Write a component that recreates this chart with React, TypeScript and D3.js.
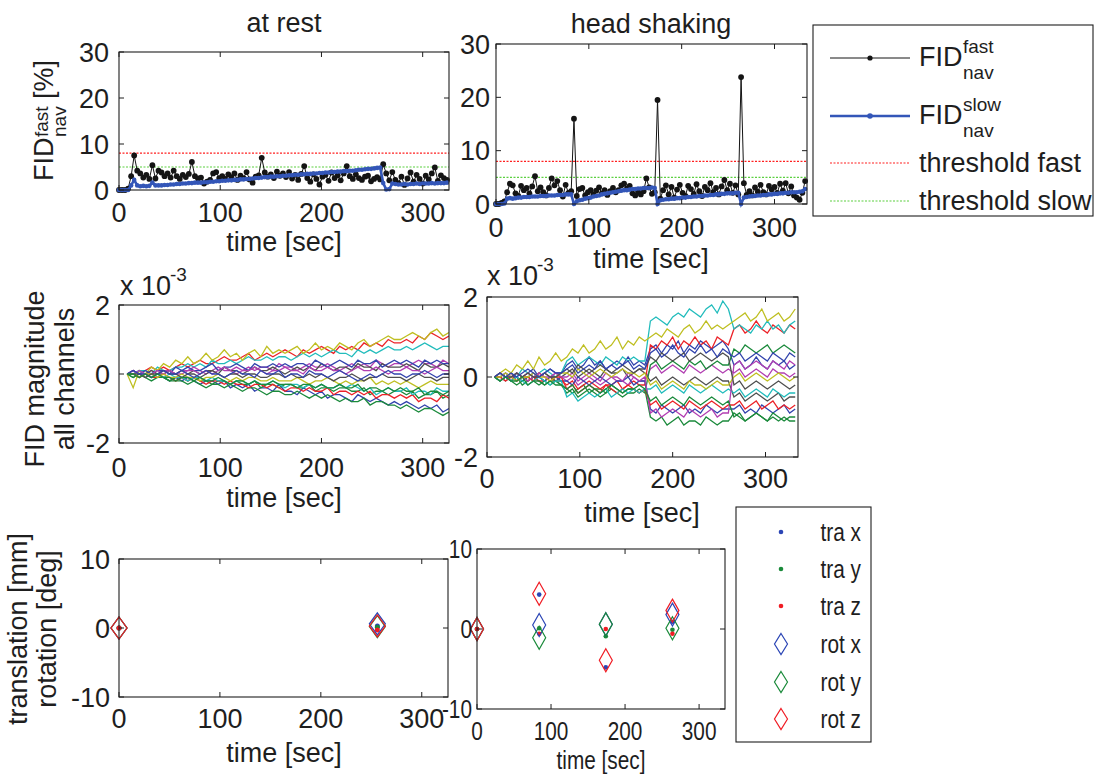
import React from "react";
import * as d3 from "d3";

const FONT = "'Liberation Sans', Arial, Helvetica, sans-serif";
const INK = "#1e1e1e";

// navigator samples, one every 3 s, FID deviation in %
const NAV_STEP = 3;
const restFast = [
  0, 0, 0, 0.3,
  3.0, 7.5, 4.2, 3.6, 2.7, 3.3, 2.4, 5.4, 2.5,
  4.2, 3.8, 3.0, 3.6, 2.7, 4.2, 3.0, 2.4, 3.3, 2.8, 3.5, 6.1,
  3.0, 2.5, 2.7, 1.4, 1.8, 2.2, 3.6, 3.9, 2.6, 3.0, 2.4, 3.4,
  2.8, 3.6, 2.2, 3.1, 2.6, 3.9, 2.3, 1.6, 2.9, 3.2, 7.0, 3.8,
  2.9, 3.4, 2.6, 4.0, 3.1, 3.6, 2.8, 3.9, 2.5, 3.3, 2.2, 3.5,
  5.2, 2.6, 1.8, 3.4, 2.4, 1.2, 2.9, 3.3, 2.0, 3.8, 2.6, 3.2,
  2.1, 3.6, 5.2, 3.0, 2.4, 3.4, 2.6, 2.2, 2.9, 3.1, 1.9, 2.4,
  2.8, 2.3, 5.6, 3.6, 2.1, 3.9, 2.2, 1.5, 2.9, 1.1, 2.5, 3.8,
  1.8, 3.3, 2.4, 1.4, 3.1, 2.3, 3.6, 4.9, 2.0, 3.2, 2.6, 2.2,
];
const restSlow = [
  0, 0, 0, 0,
  1.0, 2.2, 1.0, 0.8, 0.9, 0.8, 0.9, 1.6, 1.0,
  1.0, 1.0, 1.1, 1.1, 1.2, 1.2, 1.3, 1.3, 1.4, 1.4, 1.5, 1.5,
  1.6, 1.6, 1.6, 1.7, 1.7, 1.8, 1.8, 1.9, 1.9, 2.0, 2.0, 2.1,
  2.1, 2.2, 2.2, 2.3, 2.3, 2.4, 2.4, 2.5, 2.6, 2.6, 2.7, 2.8,
  2.8, 2.9, 2.9, 3.0, 3.0, 3.1, 3.1, 3.2, 3.2, 3.3, 3.3, 3.4,
  3.4, 3.5, 3.5, 3.6, 3.6, 3.7, 3.7, 3.8, 3.8, 3.9, 3.9, 4.0,
  4.0, 4.1, 4.1, 4.2, 4.2, 4.3, 4.4, 4.4, 4.5, 4.6, 4.6, 4.7,
  4.8, 4.9, 1.5, 0.1, 0.2, 1.4, 1.3, 1.2, 1.2, 1.3, 1.2, 1.3,
  1.3, 1.4, 1.3, 1.4, 1.4, 1.4, 1.5, 1.4, 1.5, 1.5, 1.5, 1.6,
];
const shakeFast = [
  0, 0, 0.2, 0.5,
  2.2, 3.8, 3.5, 2.0, 1.5, 3.4, 2.6, 3.0, 2.0, 3.3, 5.2, 2.4,
  3.1, 2.2, 1.6, 3.0, 4.8, 3.5, 4.3, 2.6, 1.4, 3.6, 2.1, 2.4,
  16.0, 1.5, 2.8, 3.0, 1.6, 2.2, 2.6, 1.8, 2.5, 3.1, 2.0, 2.6,
  1.7, 2.4, 3.0, 2.2, 2.6, 3.5, 3.8, 2.9, 3.4, 2.0, 1.6, 2.3,
  1.8, 2.4, 4.8, 3.1, 1.9, 2.2, 19.5, 1.0, 2.6, 3.5, 1.8, 3.2,
  1.2, 2.7, 3.6, 2.1, 1.5, 3.4, 2.8, 1.9, 3.7, 2.4, 1.5, 3.2,
  2.6, 3.9, 2.2, 3.0, 1.8, 3.3, 4.5, 2.6, 3.8, 2.1, 3.5, 1.8,
  23.8, 3.9, 1.7, 2.4, 1.6, 3.1, 2.3, 3.6, 2.2, 1.8, 3.4, 2.7,
  3.2, 2.1, 3.8, 2.5, 3.9, 2.0, 3.3, 1.6, 1.2, 0.8, 2.1, 4.3,
];
const shakeSlow = [
  0, 0, 0, 0.1,
  1.0, 1.1, 1.0, 1.1, 1.2, 1.2, 1.3, 1.3, 1.3, 1.4, 1.4, 1.4,
  1.5, 1.5, 1.5, 1.6, 1.6, 1.6, 1.7, 1.7, 1.7, 1.8, 1.8, 1.8,
  0.0, 0.5, 0.7, 0.8, 1.0, 1.1, 1.2, 1.4, 1.5, 1.6, 1.8, 1.9,
  2.0, 2.1, 2.2, 2.3, 2.4, 2.5, 2.6, 2.6, 2.7, 2.8, 2.8, 2.9,
  2.9, 3.0, 3.0, 3.0, 3.1, 3.0, 0.0, 0.7, 0.8, 0.9, 0.9, 1.0,
  1.0, 1.1, 1.1, 1.2, 1.2, 1.3, 1.3, 1.4, 1.4, 1.5, 1.5, 1.6,
  1.6, 1.7, 1.7, 1.8, 1.8, 1.9, 1.9, 2.0, 2.0, 2.0, 2.1, 2.1,
  0.0, 1.2, 1.3, 1.4, 1.5, 1.5, 1.6, 1.6, 1.7, 1.7, 1.8, 1.8,
  1.9, 1.9, 2.0, 2.0, 2.1, 2.1, 2.2, 2.2, 2.2, 2.3, 2.4, 2.8,
];
const thresholdFast = 8;
const thresholdSlow = 5;

// FID magnitude per channel in units of 1e-4, sampled every 6 s starting at 8 s
const CH_START = 8;
const CH_STEP = 6;
const restChannels = [
  [0,0,-1,0,-1,0,-1,-2,-1, -2,-1,-2,-3,-2,-2,-3,-2,-4, -3,-4,-3,-5,-4,-4,-5,-3,-5, -5,-6,-4,-5,-6,-5,-7,-6,-6, -7,-8,-6,-7,-8,-7,-8,-9,-8, -9,-8,-9,-10,-9,-10,-9,-11,-10],
  [0,-1,0,-1,-2,-1,-1,-2,-2, -2,-3,-2,-3,-4,-3,-3,-4,-3, -4,-5,-4,-4,-5,-6,-5,-5,-6, -6,-5,-6,-7,-6,-7,-6,-7,-8, -7,-8,-8,-7,-9,-8,-8,-9,-9, -10,-9,-10,-11,-10,-10,-11,-12,-11],
  [0,1,0,1,2,1,2,1,2, 3,2,3,4,3,3,4,5,4, 4,5,6,4,5,6,5,6,7, 6,5,7,6,7,8,7,6,8, 7,8,7,9,8,9,8,10,9, 9,10,9,11,10,12,11,10,11],
  [0,0,1,1,0,2,1,1,2, 2,3,2,3,2,4,3,3,4, 3,4,5,4,4,5,4,5,5, 4,5,6,5,6,5,6,7,6, 6,5,7,6,7,6,7,8,7, 7,8,7,8,9,8,7,8,8],
  [0,1,0,0,1,0,1,1,0, 1,1,2,1,0,1,2,1,1, 2,1,2,1,2,2,1,3,2, 2,1,2,3,2,2,3,2,1, 2,3,2,3,2,4,3,2,3, 3,2,3,4,3,3,2,4,3],
  [0,-4,1,0,2,1,3,2,4, 3,5,3,4,6,4,5,7,5, 6,4,6,7,5,8,6,7,6, 7,8,6,7,9,7,8,7,9, 8,7,9,10,8,9,10,11,10, 10,11,12,11,10,12,13,11,12],
  [0,0,-1,0,1,0,0,1,0, 1,0,1,0,1,1,0,2,1, 1,0,1,2,1,1,2,1,0, 1,2,1,2,1,3,2,1,2, 2,1,3,2,2,1,3,2,2, 2,3,2,1,3,2,2,3,2],
  [0,1,0,1,0,1,1,0,2, 1,2,1,1,2,3,1,2,2, 3,2,1,3,2,2,3,2,3, 2,3,3,2,4,3,2,3,4, 3,2,4,3,3,4,2,3,4, 3,4,3,2,4,3,4,3,3],
  [0,-1,0,-1,0,-1,-1,-2,-1, -1,-2,-1,-2,-2,-3,-2,-2,-3, -2,-3,-3,-2,-4,-3,-3,-4,-3, -3,-4,-4,-3,-5,-4,-4,-5,-4, -4,-5,-5,-4,-6,-5,-5,-6,-5, -5,-6,-5,-7,-6,-6,-5,-7,-6],
  [0,0,-1,0,-1,-1,0,-1,-2, -1,-2,-1,-2,-3,-2,-2,-3,-2, -3,-3,-4,-3,-3,-4,-3,-4,-5, -4,-4,-5,-4,-5,-5,-4,-6,-5, -5,-6,-5,-6,-5,-7,-6,-6,-7, -6,-7,-6,-8,-7,-7,-8,-6,-7],
  [0,0,1,0,-1,0,-1,0,-1, -1,-2,-1,-1,-2,-1,-2,-2,-3, -2,-2,-3,-2,-3,-3,-2,-3,-4, -3,-3,-4,-3,-4,-3,-4,-4,-3, -4,-3,-4,-5,-4,-6,-5,-4,-5, -5,-4,-6,-5,-5,-6,-4,-5,-5],
  [0,0,1,0,0,1,0,1,0, 0,1,1,0,1,0,1,2,1, 0,1,1,2,1,0,1,1,2, 1,1,0,2,1,1,2,1,1, 0,1,2,1,1,2,1,0,1, 1,2,1,1,0,1,2,1,1],
  [0,0,-1,0,0,-1,0,-1,-1, 0,-1,-1,-2,-1,-1,0,-1,-2, -1,-2,-1,-1,-2,-2,-1,-2,-2, -2,-1,-2,-3,-2,-2,-1,-2,-3, -2,-3,-2,-2,-1,-3,-2,-3,-2, -3,-2,-3,-4,-3,-2,-3,-3,-3],
  [0,0,0,-1,0,0,1,0,0, -1,0,0,-1,0,1,0,-1,0, 0,-1,0,0,-1,-1,0,0,-1, 0,-1,-1,0,-1,0,-1,-2,-1, -1,0,-1,-2,-1,-1,0,-1,-1, -1,-2,-1,0,-1,-1,-2,-1,-1],
  [0,1,0,0,-1,0,1,0,0, 1,0,-1,0,1,0,0,-1,0, 1,0,0,-1,1,0,0,1,-1, 0,0,-1,1,0,0,-1,0,1, 0,-1,-2,-1,0,-1,0,1,0, 0,-1,0,0,1,0,-1,0,0],
  [0,0,-1,0,-1,0,-1,-1,-2, -1,-1,-2,-1,-2,-2,-1,-2,-3, -2,-2,-3,-2,-3,-3,-2,-3,-3, -3,-4,-3,-3,-4,-3,-4,-4,-3, -4,-4,-3,-5,-4,-4,-5,-4,-5, -4,-5,-5,-4,-6,-5,-5,-6,-5],
];
// head shaking: four blocks between the motion events
const shakeBlockStart = [8, 86, 176, 266];
const shakeChannels = [
  [[0,1,0,-1,1,0,1,2,0,1,2,1,1],[3,4,2,3,5,3,4,2,3,4,3,5,3,4,3],[7,8,6,8,7,9,6,8,7,9,8,7,8,9,7],[3,4,2,3,5,3,2,4,3,4,2,3]],
  [[0,-1,0,-1,0,-2,-1,0,-1,-2,-1,-1,-2],[-3,-4,-3,-2,-4,-3,-3,-4,-2,-3,-4,-3,-3,-4,-3],[-10,-11,-10,-12,-11,-10,-12,-11,-11,-12,-10,-11,-12,-11,-11],[-9,-10,-11,-10,-9,-10,-11,-10,-11,-10,-11,-11]],
  [[0,-1,0,1,-1,0,-1,0,-1,-1,0,-1,-1],[-2,-1,-3,-2,-1,-2,-3,-2,-2,-1,-3,-2,-1,-2,-2],[8,7,9,8,10,7,9,8,10,8,9,7,10,9,8],[12,13,11,12,14,12,11,13,12,11,13,12]],
  [[0,1,0,1,0,2,1,0,1,2,1,0,1],[4,5,3,4,5,4,3,5,4,3,5,4,5,4,4],[14,15,14,13,15,16,15,17,16,15,17,18,16,19,17],[12,13,12,11,13,12,14,12,13,11,13,14]],
  [[0,0,1,0,-1,0,1,0,0,-1,0,1,0],[-1,0,-2,-1,0,-1,-2,-1,0,-1,-1,-2,0,-1,-1],[2,3,1,2,3,2,1,3,2,1,2,3,2,1,2],[1,2,0,1,2,1,0,2,1,1,0,1]],
  [[0,1,2,1,3,2,4,2,5,3,4,6,4],[5,7,6,8,6,7,9,7,8,10,7,9,8,10,9],[10,11,10,12,11,10,12,13,11,12,14,12,13,12,13],[14,15,16,14,15,17,14,15,16,14,15,17]],
  [[0,0,-1,0,1,0,-1,0,0,1,0,-1,0],[1,2,0,1,2,1,0,2,1,1,2,0,1,2,1],[-1,0,-2,-1,0,-1,-2,-1,0,-1,-2,-1,0,-1,-1],[-5,-4,-6,-5,-4,-5,-6,-5,-4,-6,-5,-5]],
  [[0,0,1,0,0,-1,0,1,0,-1,0,0,-1],[-1,-2,0,-1,-2,-1,0,-1,-2,-1,-1,0,-2,-1,-1],[-8,-9,-7,-8,-9,-8,-7,-9,-8,-9,-7,-8,-9,-8,-8],[-8,-7,-9,-8,-9,-7,-8,-9,-8,-7,-9,-8]],
  [[0,-1,0,-1,-2,-1,0,-1,-2,-1,-2,-1,-2],[-4,-3,-5,-4,-3,-4,-5,-4,-3,-4,-5,-4,-4,-3,-4],[3,4,2,3,4,3,2,4,3,4,2,3,4,3,3],[7,6,8,7,6,7,8,6,7,8,7,6]],
  [[0,0,-1,0,-1,0,0,-1,1,0,-1,0,0],[-3,-2,-4,-3,-2,-3,-4,-2,-3,-4,-3,-2,-3,-4,-3],[-7,-6,-8,-7,-6,-7,-8,-6,-7,-8,-7,-6,-7,-8,-7],[-7,-6,-8,-7,-6,-8,-7,-6,-8,-7,-8,-7]],
  [[0,-1,0,-1,0,-1,-2,-1,0,-1,-2,-1,-1],[-5,-4,-6,-5,-4,-5,-4,-3,-5,-4,-3,-4,-3,-4,-3],[-3,-2,-4,-3,-2,-3,-4,-2,-3,-4,-3,-2,-3,-4,-3],[-4,-3,-5,-4,-3,-4,-5,-3,-4,-5,-4,-4]],
  [[0,1,0,0,1,0,-1,0,1,0,0,1,0],[0,1,-1,0,1,0,-1,1,0,0,-1,1,0,-1,0],[-9,-8,-10,-9,-8,-9,-10,-8,-9,-10,-9,-8,-10,-9,-9],[3,4,2,3,4,3,2,4,3,2,4,3]],
  [[0,0,1,0,-1,0,0,1,0,0,-1,0,1],[1,0,2,1,0,1,2,1,0,1,2,1,1,0,1],[-2,-1,-3,-2,-1,-2,-3,-1,-2,-2,-3,-2,-1,-2,-2],[0,1,-1,0,1,0,-1,0,1,0,-1,0]],
  [[0,1,0,0,1,0,1,0,0,1,0,0,1],[2,1,3,2,1,2,3,2,1,2,3,2,1,2,2],[5,4,6,5,4,5,6,4,5,6,5,4,5,6,5],[-2,-1,-3,-2,-1,-2,-3,-2,-1,-2,-3,-2]],
  [[0,1,0,1,0,1,2,1,0,1,2,1,1],[2,3,1,2,3,2,4,2,3,2,3,4,2,3,2],[6,7,5,6,8,6,5,7,6,8,6,7,5,7,6],[5,6,4,5,6,5,4,6,5,4,6,5]],
  [[0,-1,0,-1,-1,0,-2,-1,-1,-2,-1,-2,-2],[-3,-2,-4,-3,-2,-3,-4,-3,-2,-3,-4,-3,-3,-2,-3],[-6,-5,-7,-6,-5,-6,-7,-5,-6,-7,-6,-5,-6,-7,-6],[-10,-9,-11,-10,-9,-10,-11,-9,-10,-11,-10,-10]],
];
const channelColors = ["#3344ad", "#1b8a3c", "#ec2228", "#22bcbc", "#b23fb2", "#bfbf22", "#505050"];

// motion estimates at each event (mm / deg)
const restEventTime = [0, 256];
const restTraX = [0, 0.3];
const restTraY = [0, 0.1];
const restTraZ = [0, -0.3];
const restRotX = [0, 0.6];
const restRotY = [0, 0.2];
const restRotZ = [0, 0.3];
const shakeEventTime = [0, 84, 174, 264];
const shakeTraX = [0, 4.3, -4.8, 0.9];
const shakeTraY = [0, 0.1, -0.9, -0.1];
const shakeTraZ = [0, -0.6, 0, -0.6];
const shakeRotX = [0, 0.5, 0.6, 1.8];
const shakeRotY = [0, -1.1, 0.6, 0.1];
const shakeRotZ = [0, 4.4, -3.9, 2.3];

const motionNames = ["tra x", "tra y", "tra z", "rot x", "rot y", "rot z"];
const motionColors = ["#2b45b5", "#1a8a3a", "#f01c24", "#2b45b5", "#1a8a3a", "#f01c24"];

const timeTicks = [0, 100, 200, 300];

const BLACK = "#141414";
const BLUE = "#3356b8";
const RED_DOT = "#ff2020";
const GREEN_DOT = "#5cd040";

// the bottom-right panel of the source figure is squeezed sideways
const SQ_FS = 26;
const SQ_SX = 0.8;

type Scale = d3.ScaleLinear<number, number>;

function Axes({ x, y, yTicks, tickBase, fs = 27, sx = 1, gap = 8 }: {
  x: Scale; y: Scale; yTicks: number[]; tickBase: number; fs?: number; sx?: number; gap?: number;
}) {
  const [l, r] = x.range();
  const [b, t] = y.range();
  return (
    <g fill={INK}>
      {timeTicks.map((v) => (
        <g key={"x" + v}>
          <line x1={x(v)} x2={x(v)} y1={b} y2={b - 5} stroke={INK} />
          <line x1={x(v)} x2={x(v)} y1={t} y2={t + 5} stroke={INK} />
          <text transform={`translate(${x(v)},${tickBase}) scale(${sx},1)`} textAnchor="middle" fontSize={fs}>{v}</text>
        </g>
      ))}
      {yTicks.map((v) => (
        <g key={"y" + v}>
          <line x1={l} x2={l + 5} y1={y(v)} y2={y(v)} stroke={INK} />
          <line x1={r} x2={r - 5} y1={y(v)} y2={y(v)} stroke={INK} />
          <text transform={`translate(${l - gap},${y(v) + fs * 0.36}) scale(${sx},1)`} textAnchor="end" fontSize={fs}>{v}</text>
        </g>
      ))}
      <rect x={l} y={t} width={r - l} height={b - t} fill="none" stroke={INK} strokeWidth={1.1} />
    </g>
  );
}

function NavPanel({ x, y, fast, slow }: { x: Scale; y: Scale; fast: number[]; slow: number[] }) {
  const line = d3.line<number>().x((_, i) => x(i * NAV_STEP)).y((d) => y(d));
  const [l, r] = x.range();
  return (
    <g>
      <line x1={l} x2={r} y1={y(thresholdFast)} y2={y(thresholdFast)} stroke={RED_DOT} strokeWidth={1.2} strokeDasharray="2,1.5" />
      <line x1={l} x2={r} y1={y(thresholdSlow)} y2={y(thresholdSlow)} stroke={GREEN_DOT} strokeWidth={1.2} strokeDasharray="2,1.5" />
      <path d={line(fast) ?? ""} fill="none" stroke={BLACK} strokeWidth={1} />
      {fast.map((d, i) => <circle key={"f" + i} cx={x(i * NAV_STEP)} cy={y(d)} r={2.9} fill={BLACK} />)}
      <path d={line(slow) ?? ""} fill="none" stroke={BLUE} strokeWidth={2.6} />
      {slow.map((d, i) => <circle key={"s" + i} cx={x(i * NAV_STEP)} cy={y(d)} r={2.3} fill={BLUE} />)}
    </g>
  );
}

function diamond(cx: number, cy: number, hw: number, hh: number) {
  return `M${cx},${cy - hh}L${cx + hw},${cy}L${cx},${cy + hh}L${cx - hw},${cy}Z`;
}

function MotionPanel({ x, y, times, series, hw, hh, r }: {
  x: Scale; y: Scale; times: number[]; series: number[][]; hw: number; hh: number; r: number;
}) {
  return (
    <g>
      {series.map((vals, s) =>
        vals.map((v, i) =>
          s < 3 ? (
            <circle key={s + "-" + i} cx={x(times[i])} cy={y(v)} r={r} fill={motionColors[s]} />
          ) : (
            <path key={s + "-" + i} d={diamond(x(times[i]), y(v), hw, hh)} fill="none" stroke={motionColors[s]} strokeWidth={1.2} />
          )
        )
      )}
    </g>
  );
}

function TimeLabel({ x, y, fs = 27, sx = 1 }: { x: number; y: number; fs?: number; sx?: number }) {
  return (
    <text transform={`translate(${x},${y}) scale(${sx},1)`} textAnchor="middle" fontSize={fs}>time [sec]</text>
  );
}

export default function App() {
  const x1 = d3.scaleLinear().domain([0, 326]).range([119, 449]);
  const y1 = d3.scaleLinear().domain([0, 30]).range([190, 52]);
  const x2 = d3.scaleLinear().domain([0, 335]).range([496, 807]);
  const y2 = d3.scaleLinear().domain([0, 30]).range([204, 44]);
  const x3 = d3.scaleLinear().domain([0, 326]).range([119, 449]);
  const y3 = d3.scaleLinear().domain([-2, 2]).range([443, 305]);
  const x4 = d3.scaleLinear().domain([0, 335]).range([487, 798]);
  const y4 = d3.scaleLinear().domain([-2, 2]).range([457, 297]);
  const x5 = d3.scaleLinear().domain([0, 326]).range([119, 448]);
  const y5 = d3.scaleLinear().domain([-10, 10]).range([697, 559]);
  const x6 = d3.scaleLinear().domain([0, 335]).range([477, 725]);
  const y6 = d3.scaleLinear().domain([-10, 10]).range([709, 549]);

  // channel values are stored in 1e-4, the axis is in 1e-3
  const restLine = d3.line<number>().x((_, i) => x3(CH_START + i * CH_STEP)).y((d) => y3(d / 10));
  const shakeLine = d3.line<[number, number]>().x((d) => x4(d[0])).y((d) => y4(d[1] / 10));
  const shakePoints = shakeChannels.map((blocks) =>
    blocks.flatMap((vals, b) => vals.map((v, j) => [shakeBlockStart[b] + j * CH_STEP, v] as [number, number]))
  );

  const restMotion = [restTraX, restTraY, restTraZ, restRotX, restRotY, restRotZ];
  const shakeMotion = [shakeTraX, shakeTraY, shakeTraZ, shakeRotX, shakeRotY, shakeRotZ];

  const navLegend = [
    { sup: "fast", color: BLACK, width: 1, r: 2.6 },
    { sup: "slow", color: BLUE, width: 2.4, r: 2.8 },
  ];
  const thresholdLegend = [
    { label: "threshold fast", color: RED_DOT },
    { label: "threshold slow", color: GREEN_DOT },
  ];
  const navRowY = [58, 116];
  const thrRowY = [163, 201];
  const motionRowY = [532, 569, 606, 644, 682, 719];

  return (
    <svg
      width={1095}
      height={778}
      style={{ position: "absolute", left: 0, top: 0, background: "#fff" }}
      fontFamily={FONT}
      fill={INK}
    >
      <defs>
        <clipPath id="clip3"><rect x={119} y={305} width={330} height={138} /></clipPath>
        <clipPath id="clip4"><rect x={487} y={297} width={311} height={160} /></clipPath>
      </defs>

      {/* titles */}
      <text x={284} y={32} textAnchor="middle" fontSize={27}>at rest</text>
      <text x={651} y={33} textAnchor="middle" fontSize={27}>head shaking</text>

      {/* row 1: navigator FID */}
      <NavPanel x={x1} y={y1} fast={restFast} slow={restSlow} />
      <Axes x={x1} y={y1} yTicks={[0, 10, 20, 30]} tickBase={222} gap={10} />
      <TimeLabel x={284} y={251} />
      <g transform="translate(52.5,121) rotate(-90)" fontSize={27}>
        <text x={-60} y={0}>FID</text>
        <text x={-16} y={-5} fontSize={19}>fast</text>
        <text x={-16} y={13} fontSize={19}>nav</text>
        <text x={22} y={0}>[%]</text>
      </g>

      <NavPanel x={x2} y={y2} fast={shakeFast} slow={shakeSlow} />
      <Axes x={x2} y={y2} yTicks={[0, 10, 20, 30]} tickBase={237} gap={6} />
      <TimeLabel x={651} y={268} />

      {/* legend for navigator */}
      <g>
        <rect x={813} y={25} width={280} height={191} fill="#fff" stroke={INK} strokeWidth={1.1} />
        {navLegend.map((e, i) => (
          <g key={e.sup}>
            <line x1={830} x2={910} y1={navRowY[i]} y2={navRowY[i]} stroke={e.color} strokeWidth={e.width} />
            <circle cx={870} cy={navRowY[i]} r={e.r} fill={e.color} />
            <text x={919} y={navRowY[i] + 8} fontSize={27}>FID</text>
            <text x={963} y={navRowY[i] - 5} fontSize={19}>{e.sup}</text>
            <text x={963} y={navRowY[i] + 21} fontSize={19}>nav</text>
          </g>
        ))}
        {thresholdLegend.map((e, i) => (
          <g key={e.label}>
            <line x1={830} x2={910} y1={thrRowY[i]} y2={thrRowY[i]} stroke={e.color} strokeWidth={1.2} strokeDasharray="2,1.5" />
            <text x={919} y={thrRowY[i] + 9} fontSize={27}>{e.label}</text>
          </g>
        ))}
      </g>

      {/* row 2: all channels */}
      <g clipPath="url(#clip3)">
        {restChannels.map((ch, i) => (
          <path key={i} d={restLine(ch) ?? ""} fill="none" stroke={channelColors[i % channelColors.length]} strokeWidth={1.3} />
        ))}
      </g>
      <Axes x={x3} y={y3} yTicks={[-2, 0, 2]} tickBase={477} gap={9} />
      <TimeLabel x={284} y={507} />
      <text x={120} y={295} fontSize={27}>x 10</text>
      <text x={170} y={281} fontSize={19}>-3</text>
      <g transform="translate(0,379) rotate(-90)" fontSize={27} textAnchor="middle">
        <text x={0} y={44}>FID magnitude</text>
        <text x={0} y={74}>all channels</text>
      </g>

      <g clipPath="url(#clip4)">
        {shakePoints.map((pts, i) => (
          <path key={i} d={shakeLine(pts) ?? ""} fill="none" stroke={channelColors[i % channelColors.length]} strokeWidth={1.3} />
        ))}
      </g>
      <Axes x={x4} y={y4} yTicks={[-2, 0, 2]} tickBase={488} gap={9} />
      <TimeLabel x={642} y={522} />
      <text x={487} y={285} fontSize={27}>x 10</text>
      <text x={537} y={271} fontSize={19}>-3</text>

      {/* row 3: motion parameters */}
      <MotionPanel x={x5} y={y5} times={restEventTime} series={restMotion} hw={8} hh={11} r={2.5} />
      <Axes x={x5} y={y5} yTicks={[-10, 0, 10]} tickBase={728} gap={9} />
      <TimeLabel x={284} y={762} />
      <g transform="translate(0,629) rotate(-90)" fontSize={27} textAnchor="middle">
        <text x={0} y={27}>translation [mm]</text>
        <text x={0} y={56}>rotation [deg]</text>
      </g>

      <MotionPanel x={x6} y={y6} times={shakeEventTime} series={shakeMotion} hw={6.5} hh={11.5} r={2.3} />
      <Axes x={x6} y={y6} yTicks={[-10, 0, 10]} tickBase={740} fs={SQ_FS} sx={SQ_SX} gap={5} />
      <TimeLabel x={601} y={769} fs={SQ_FS} sx={SQ_SX} />

      {/* legend for motion */}
      <g>
        <rect x={736} y={507} width={135} height={235} fill="#fff" stroke={INK} strokeWidth={1.1} />
        {motionNames.map((name, i) => (
          <g key={name}>
            {i < 3 ? (
              <circle cx={781} cy={motionRowY[i]} r={2.3} fill={motionColors[i]} />
            ) : (
              <path d={diamond(781, motionRowY[i], 6.5, 10.5)} fill="none" stroke={motionColors[i]} strokeWidth={1.2} />
            )}
            <text transform={`translate(861,${motionRowY[i] + 9}) scale(${SQ_SX},1)`} textAnchor="end" fontSize={SQ_FS}>{name}</text>
          </g>
        ))}
      </g>
    </svg>
  );
}
